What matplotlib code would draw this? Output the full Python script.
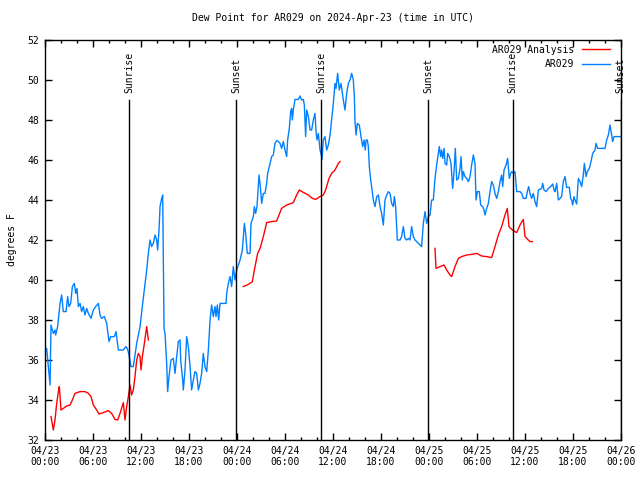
import numpy as np
import matplotlib
matplotlib.use("Agg")
import matplotlib.pyplot as plt
from matplotlib.ticker import MultipleLocator

# hours since 2024-04-23 00:00 UTC, dew point in F
obs_hours = [0.0, 0.21, 0.63, 0.75, 1.04, 1.25, 1.33, 1.58, 1.88, 2.08, 2.29, 2.63, 2.83, 3.0,
             3.21, 3.42, 3.67, 3.83, 4.0, 4.17, 4.38, 4.58, 4.79, 5.0, 5.21, 5.42, 5.75, 6.04,
             6.33, 6.67, 6.88, 7.08, 7.42, 7.71, 8.0, 8.21, 8.67, 8.88, 9.17, 9.79, 10.13, 10.33,
             10.5, 10.75, 11.04, 11.46, 11.88, 12.21, 12.71, 12.92, 13.13, 13.33, 13.54, 13.75,
             13.96, 14.08, 14.25, 14.38, 14.58, 14.71, 14.79, 14.88, 15.0, 15.21, 15.33, 15.5,
             15.75, 16.04, 16.25, 16.46, 16.67, 16.88, 16.96, 17.21, 17.29, 17.5, 17.71, 17.92,
             18.13, 18.33, 18.54, 18.75, 18.96, 19.17, 19.38, 19.58, 19.79, 20.0, 20.21, 20.42,
             20.63, 20.83, 21.04, 21.25, 21.38, 21.54, 21.71, 21.88, 22.63, 22.71, 22.92, 23.13,
             23.33, 23.54, 23.75, 23.96, 24.38, 24.67, 24.92, 25.08, 25.29, 25.63, 25.75, 26.04,
             26.17, 26.33, 26.5, 26.75, 26.92, 27.08, 27.29, 27.5, 27.71, 27.83, 28.04, 28.33,
             28.54, 28.75, 28.96, 29.17, 29.38, 29.58, 29.79, 30.0, 30.21, 30.33, 30.54, 30.71,
             30.83, 30.92, 31.04, 31.25, 31.67, 31.88, 32.08, 32.29, 32.42, 32.58, 32.71, 32.92,
             33.13, 33.33, 33.54, 33.75, 33.88, 34.0, 34.17, 34.38, 34.5, 34.63, 34.79, 35.0,
             35.21, 35.42, 35.63, 35.83, 36.04, 36.25, 36.38, 36.58, 36.79, 37.0, 37.17, 37.29,
             37.5, 37.71, 37.92, 38.13, 38.33, 38.54, 38.67, 38.75, 38.88, 39.04, 39.29, 39.5,
             39.71, 39.88, 40.04, 40.13, 40.29, 40.42, 40.54, 40.71, 40.83, 41.04, 41.25, 41.46,
             41.67, 41.88, 42.08, 42.29, 42.5, 42.71, 42.92, 43.13, 43.33, 43.54, 43.67, 43.83,
             44.04, 44.38, 44.58, 44.79, 45.0, 45.21, 45.42, 45.63, 45.83, 46.04, 46.25, 46.46,
             46.67, 46.88, 47.08, 47.29, 47.5, 47.71, 47.92, 48.13, 48.33, 48.54, 48.75, 48.96,
             49.17, 49.29, 49.46, 49.58, 49.71, 49.88, 50.0, 50.21, 50.33, 50.54, 50.75, 50.96,
             51.13, 51.29, 51.46, 51.67, 51.88, 52.0, 52.17, 52.29, 52.5, 52.71, 52.92, 53.13,
             53.33, 53.54, 53.75, 53.88, 54.04, 54.29, 54.46, 54.71, 54.88, 55.0, 55.21, 55.42,
             55.63, 55.83, 56.04, 56.25, 56.46, 56.67, 56.88, 57.08, 57.21, 57.38, 57.63, 57.83,
             57.92, 58.04, 58.21, 58.33, 58.54, 58.75, 58.96, 59.38, 59.58, 59.79, 60.13, 60.29,
             60.46, 60.63, 60.83, 61.04, 61.25, 61.46, 61.67, 62.08, 62.21, 62.38, 62.63, 62.92,
             63.21, 63.46, 63.63, 63.75, 63.96, 64.17, 64.38, 64.58, 64.79, 65.0, 65.21, 65.54,
             65.71, 65.83, 65.96, 66.13, 66.25, 66.46, 66.67, 66.88, 67.08, 67.29, 67.42, 67.63,
             67.79, 68.04, 68.25, 68.46, 68.75, 68.88, 69.08, 70.0, 70.21, 70.42, 70.63, 70.83,
             70.96, 71.13, 71.67, 72.0]
obs_dewpt = [36.5, 36.58, 34.75, 37.75, 37.33, 37.5, 37.25, 37.67, 38.83, 39.25, 38.42, 38.42, 39.17, 38.67,
             38.83, 39.67, 39.83, 39.33, 39.58, 38.67, 38.83, 38.42, 38.67, 38.25, 38.58, 38.33, 38.08, 38.5,
             38.67, 38.83, 38.25, 38.08, 38.17, 37.83, 36.92, 37.17, 37.17, 37.42, 36.5, 36.5, 36.67, 36.53,
             36.25, 35.67, 35.67, 36.83, 37.67, 38.83, 40.5, 41.33, 42.0, 41.67, 41.83, 42.25,
             42.0, 41.5, 42.5, 43.67, 44.08, 44.25, 41.0, 37.58, 37.33, 35.83, 34.42, 35.17,
             36.0, 36.08, 35.33, 36.17, 36.92, 37.0, 36.0, 35.0, 34.5, 35.5, 37.17, 36.67,
             35.67, 34.5, 35.0, 35.42, 35.33, 34.5, 34.83, 35.33, 36.33, 35.67, 35.42, 36.5,
             38.0, 38.75, 38.17, 38.67, 38.17, 38.75, 38.0, 38.83, 38.83, 39.33, 39.83, 40.17,
             39.67, 40.67, 40.0, 40.5, 41.0, 41.5, 42.83, 42.33, 41.33, 41.33, 42.83, 43.17,
             43.67, 43.33, 43.67, 45.25, 44.67, 43.83, 44.33, 44.33, 44.83, 45.33, 45.67, 46.17,
             46.25, 46.83, 46.97, 46.92, 46.83, 46.58, 46.92, 46.5, 46.17, 47.0, 47.58, 48.42,
             48.58, 48.0, 48.5, 49.03, 49.03, 49.2, 49.0, 49.03, 48.75, 47.17, 48.5, 48.17,
             47.5, 47.5, 48.0, 48.33, 47.42, 47.0, 47.33, 46.5, 46.33, 46.03, 47.0, 47.17,
             46.5, 46.75, 47.25, 48.0, 48.83, 49.83, 49.58, 50.33, 49.5, 49.83, 49.33, 49.0,
             48.5, 49.33, 49.83, 50.0, 50.33, 50.0, 49.17, 47.92, 47.25, 47.83, 47.75, 47.17,
             46.67, 47.0, 46.5, 47.0, 47.0, 46.67, 45.67, 45.0, 44.67, 44.0, 43.67, 44.17,
             44.25, 43.67, 43.33, 42.75, 44.0, 44.25, 44.42, 44.33, 43.83, 43.67, 44.17, 43.67,
             42.0, 42.0, 42.17, 42.67, 42.08, 42.0, 42.08, 42.0, 42.67, 42.17, 42.0, 41.92,
             41.83, 41.75, 41.67, 42.83, 43.42, 42.83, 43.17, 43.25, 44.0, 44.0, 45.08, 45.75,
             46.33, 46.67, 46.17, 46.5, 46.08, 46.58, 45.83, 45.75, 46.33, 46.17, 45.83, 44.58,
             45.42, 46.58, 45.0, 45.08, 45.58, 46.17, 45.0, 45.42, 45.17, 45.08, 44.92, 45.17,
             45.75, 46.25, 45.83, 44.0, 44.42, 44.42, 43.75, 43.67, 43.5, 43.25, 43.58, 43.83,
             44.42, 44.92, 44.75, 44.33, 44.08, 44.42, 44.92, 45.25, 44.67, 45.5, 45.75, 46.08,
             45.67, 45.08, 45.33, 45.42, 45.33, 45.42, 44.42, 44.42, 44.33, 44.08, 44.08, 44.42,
             44.67, 44.33, 44.08, 44.33, 43.92, 43.67, 44.5, 44.58, 44.83, 44.5, 44.42, 44.58,
             44.67, 44.8, 44.5, 44.42, 44.83, 44.0, 44.08, 44.17, 44.92, 45.17, 44.63, 44.63,
             44.08, 44.0, 43.75, 44.17, 44.0, 43.8, 45.08, 44.92, 44.67, 45.25, 45.83, 45.17,
             45.42, 45.58, 45.92, 46.33, 46.5, 46.83, 46.58, 46.58, 47.0, 47.25, 47.75, 47.25,
             46.92, 47.17, 47.17, 47.17]

ana_hours = [0.75, 1.04, 1.25, 1.46, 1.67, 1.79, 2.0, 2.29, 2.71, 3.13, 3.42, 3.75, 4.38, 5.0,
             5.42, 5.75, 6.04, 6.46, 6.75, 7.29, 7.92, 8.33, 8.75, 9.08, 9.38, 9.79, 10.0, 10.21,
             10.42, 10.63, 10.83, 11.04, 11.25, 11.46, 11.67, 11.88, 12.0, 12.17, 12.42, 12.71,
             12.92, 18.0,
             24.79, 25.42, 25.92, 26.17, 26.58, 26.88, 27.29, 27.71, 28.33, 28.96, 29.17, 29.58,
             30.21, 31.04, 31.46, 31.79, 32.29, 32.92, 33.42, 33.83, 34.38, 34.79, 35.08, 35.5,
             35.83, 36.25, 36.67, 36.88, 42.0,
             48.75, 48.88, 49.38, 49.88, 50.21, 50.63, 50.83, 51.25, 51.67, 52.08, 52.71, 53.33,
             53.96, 54.58, 55.21, 55.83, 56.25, 56.67, 57.08, 57.5, 57.79, 58.0, 58.33, 58.75,
             58.96, 59.38, 59.79, 60.0, 60.33, 60.63, 60.92]
ana_dewpt = [33.17, 32.5, 33.0, 33.83, 34.42, 34.67, 33.5, 33.58, 33.7, 33.75, 34.0, 34.33, 34.42, 34.42,
             34.33, 34.17, 33.75, 33.5, 33.3, 33.37, 33.47, 33.33, 33.03, 33.0, 33.33, 33.87, 33.0, 33.67,
             34.17, 34.75, 34.25, 34.5, 35.17, 36.0, 36.33, 36.17, 35.5, 36.17, 36.83, 37.67,
             37.0, np.nan,
             39.67, 39.78, 39.92, 40.5, 41.33, 41.58, 42.17, 42.87, 42.92, 42.95, 43.17, 43.58,
             43.75, 43.87, 44.25, 44.5, 44.38, 44.25, 44.08, 44.03, 44.17, 44.25, 44.5, 45.08,
             45.33, 45.5, 45.83, 45.92, np.nan,
             41.58, 40.58, 40.67, 40.75, 40.5, 40.25, 40.17, 40.67, 41.08, 41.17, 41.25, 41.28,
             41.33, 41.2, 41.17, 41.12, 41.67, 42.25, 42.67, 43.25, 43.58, 42.67, 42.53, 42.42,
             42.37, 42.75, 43.03, 42.17, 42.03, 41.92, 41.92]

event_hours = [10.55, 23.92, 34.55, 47.92, 58.45, 71.95]
event_names = ["Sunrise", "Sunset", "Sunrise", "Sunset", "Sunrise", "Sunset"]

tick_hours = list(range(0, 73, 6))
tick_labels = ["04/23\n00:00", "04/23\n06:00", "04/23\n12:00", "04/23\n18:00",
               "04/24\n00:00", "04/24\n06:00", "04/24\n12:00", "04/24\n18:00",
               "04/25\n00:00", "04/25\n06:00", "04/25\n12:00", "04/25\n18:00",
               "04/26\n00:00"]

plt.rcParams["font.family"] = ["DejaVu Sans Mono"]
plt.rcParams["font.size"] = 7

fig = plt.figure(figsize=(6.4, 4.8), dpi=100)
ax = fig.add_axes([45 / 640, 40 / 480, 576 / 640, 400 / 480])

ax.plot(ana_hours, ana_dewpt, color="#ff0000", lw=1.0, label="AR029 Analysis")
ax.plot(obs_hours, obs_dewpt, color="#0080ff", lw=1.0, label="AR029")

for h, name in zip(event_hours, event_names):
    ax.plot([h, h], [32, 49], color="black", lw=1.0)
    ax.text(h, 49.35, name, rotation=90, ha="center", va="bottom", fontsize=7)

ax.set_xlim(0, 72)
ax.set_ylim(32, 52)
ax.set_xticks(tick_hours)
ax.set_xticklabels(tick_labels)
ax.xaxis.set_minor_locator(MultipleLocator(2))
ax.yaxis.set_major_locator(MultipleLocator(2))
ax.tick_params(which="both", direction="in", top=True, right=True, width=1)
ax.tick_params(which="major", length=5, pad=4)
ax.tick_params(which="minor", length=2.5)
for s in ax.spines.values():
    s.set_linewidth(1)

ax.set_ylabel("degrees F", labelpad=8)
ax.set_title("Dew Point for AR029 on 2024-Apr-23 (time in UTC)", fontsize=7, pad=14)

ax.legend(loc="upper right", bbox_to_anchor=(1 - 6 / 576, 1), frameon=False,
          markerfirst=False, handlelength=2.9, borderaxespad=0.1,
          labelspacing=0.45, handletextpad=0.8)

fig.savefig("out.png", dpi=100)
